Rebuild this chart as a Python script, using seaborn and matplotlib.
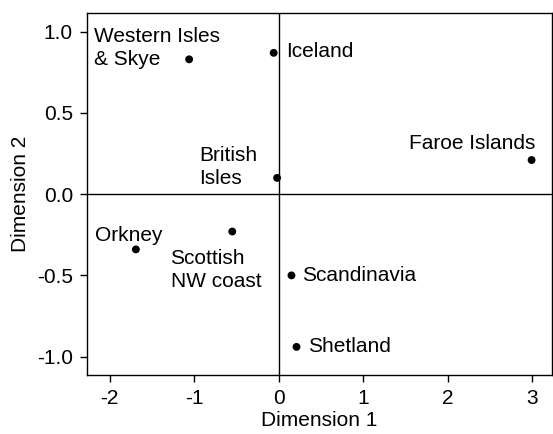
import matplotlib
matplotlib.use("Agg")
import matplotlib.pyplot as plt
import seaborn as sns
import pandas as pd

# Data
regions = ['Western Isles\n& Skye', 'Iceland', 'British\nIsles', 'Faroe Islands',
           'Orkney', 'Scottish\nNW coast', 'Scandinavia', 'Shetland']
dim1 = [-1.06, -0.06, -0.02, 2.99, -1.69, -0.55, 0.15, 0.21]
dim2 = [0.83, 0.87, 0.10, 0.21, -0.34, -0.23, -0.50, -0.94]

df = pd.DataFrame({'region': regions, 'Dimension 1': dim1, 'Dimension 2': dim2})

sns.set_style('ticks')
plt.rcParams['font.family'] = ['Liberation Sans', 'DejaVu Sans']
FS = 15

fig = plt.figure(figsize=(5.53, 4.34), dpi=100)
ax = fig.add_axes([0.157, 0.136, 0.841, 0.834])

ax.axhline(0, color='black', lw=1, zorder=1)
ax.axvline(0, color='black', lw=1, zorder=1)
sns.scatterplot(data=df, x='Dimension 1', y='Dimension 2', color='black',
                s=32, edgecolor='none', ax=ax, zorder=3)

# label placement: (x, y, ha) per region
label_pos = {
    'Western Isles\n& Skye': (-2.19, 0.90, 'left'),
    'Iceland': (0.09, 0.877, 'left'),
    'British\nIsles': (-0.94, 0.167, 'left'),
    'Faroe Islands': (3.04, 0.31, 'right'),
    'Orkney': (-2.17, -0.255, 'left'),
    'Scottish\nNW coast': (-1.28, -0.468, 'left'),
    'Scandinavia': (0.28, -0.50, 'left'),
    'Shetland': (0.35, -0.94, 'left'),
}
for name in regions:
    lx, ly, ha = label_pos[name]
    ax.text(lx, ly, name, ha=ha, va='center', fontsize=FS,
            linespacing=1.28, color='black')

ax.set_xlim(-2.27, 3.23)
ax.set_ylim(-1.113, 1.115)
ax.set_xticks([-2, -1, 0, 1, 2, 3])
ax.set_yticks([-1.0, -0.5, 0.0, 0.5, 1.0])
ax.set_yticklabels(['-1.0', '-0.5', '0.0', '0.5', '1.0'])
ax.set_xticklabels(['-2', '-1', '0', '1', '2', '3'])
ax.tick_params(labelsize=FS, length=5, width=1, pad=5, color='black', labelcolor='black')
ax.set_xlabel('Dimension 1', fontsize=FS, labelpad=2, color='black')
ax.set_ylabel('Dimension 2', fontsize=FS, labelpad=5, color='black')
for sp in ax.spines.values():
    sp.set_visible(True)
    sp.set_color('black')
    sp.set_linewidth(1)

fig.savefig('out.png', dpi=100)
